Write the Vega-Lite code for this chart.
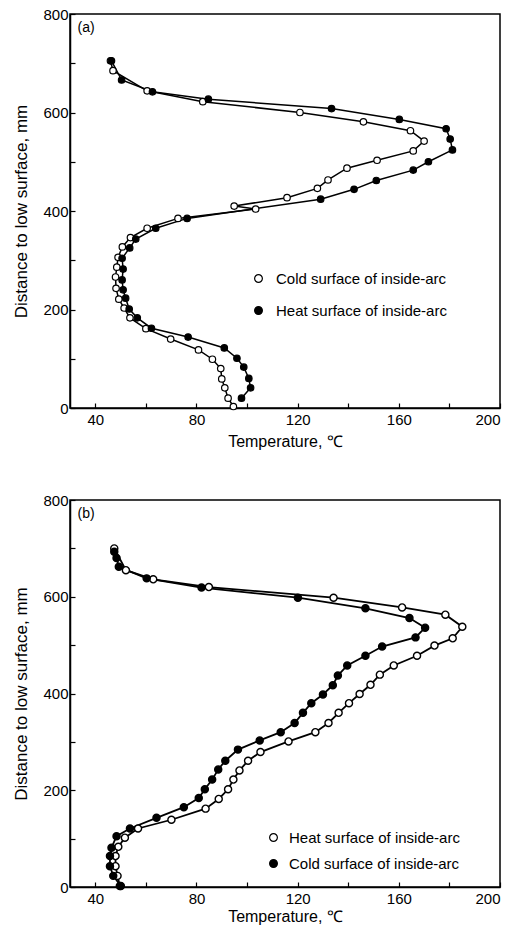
{
  "$schema": "https://vega.github.io/schema/vega-lite/v6.json",
  "background": "white",
  "padding": {"left": 12, "top": 6, "right": 10, "bottom": 5},
  "config": {
    "font": "Liberation Sans",
    "view": {"stroke": "black", "strokeWidth": 1.5},
    "axis": {"grid": false, "domainColor": "black", "domainWidth": 1.5, "tickColor": "black", "tickWidth": 1.2, "labelColor": "black", "titleColor": "black", "labelFontSize": 15, "titleFontSize": 16, "titleFontWeight": "normal", "labelFont": "Liberation Sans", "titleFont": "Liberation Sans"},
    "legend": {"labelFontSize": 15, "labelColor": "black", "labelFont": "Liberation Sans"}
  },
  "datasets": {
    "a": [
      {"s": "Cold surface of inside-arc", "t": 46, "d": 705},
      {"s": "Cold surface of inside-arc", "t": 47, "d": 685},
      {"s": "Cold surface of inside-arc", "t": 60.5, "d": 644},
      {"s": "Cold surface of inside-arc", "t": 82.5, "d": 622},
      {"s": "Cold surface of inside-arc", "t": 120.9, "d": 600},
      {"s": "Cold surface of inside-arc", "t": 146, "d": 581},
      {"s": "Cold surface of inside-arc", "t": 164.6, "d": 563},
      {"s": "Cold surface of inside-arc", "t": 170, "d": 542},
      {"s": "Cold surface of inside-arc", "t": 165.7, "d": 522},
      {"s": "Cold surface of inside-arc", "t": 151.4, "d": 503},
      {"s": "Cold surface of inside-arc", "t": 139.5, "d": 487},
      {"s": "Cold surface of inside-arc", "t": 132, "d": 463},
      {"s": "Cold surface of inside-arc", "t": 127.8, "d": 446},
      {"s": "Cold surface of inside-arc", "t": 115.8, "d": 427},
      {"s": "Cold surface of inside-arc", "t": 103.4, "d": 404},
      {"s": "Cold surface of inside-arc", "t": 94.9, "d": 410},
      {"s": "Cold surface of inside-arc", "t": 72.7, "d": 385},
      {"s": "Cold surface of inside-arc", "t": 60.5, "d": 365},
      {"s": "Cold surface of inside-arc", "t": 53.9, "d": 346},
      {"s": "Cold surface of inside-arc", "t": 50.7, "d": 327},
      {"s": "Cold surface of inside-arc", "t": 49, "d": 306},
      {"s": "Cold surface of inside-arc", "t": 48.5, "d": 286},
      {"s": "Cold surface of inside-arc", "t": 48, "d": 266},
      {"s": "Cold surface of inside-arc", "t": 48.2, "d": 243},
      {"s": "Cold surface of inside-arc", "t": 49.3, "d": 221},
      {"s": "Cold surface of inside-arc", "t": 51.4, "d": 203},
      {"s": "Cold surface of inside-arc", "t": 53.7, "d": 183},
      {"s": "Cold surface of inside-arc", "t": 60, "d": 161},
      {"s": "Cold surface of inside-arc", "t": 69.8, "d": 140},
      {"s": "Cold surface of inside-arc", "t": 80.8, "d": 118},
      {"s": "Cold surface of inside-arc", "t": 86.3, "d": 99},
      {"s": "Cold surface of inside-arc", "t": 89.6, "d": 80},
      {"s": "Cold surface of inside-arc", "t": 90, "d": 59},
      {"s": "Cold surface of inside-arc", "t": 91.2, "d": 41},
      {"s": "Cold surface of inside-arc", "t": 92.5, "d": 20},
      {"s": "Cold surface of inside-arc", "t": 94.6, "d": 3},
      {"s": "Heat surface of inside-arc", "t": 46.4, "d": 705},
      {"s": "Heat surface of inside-arc", "t": 50.4, "d": 666},
      {"s": "Heat surface of inside-arc", "t": 62.6, "d": 642},
      {"s": "Heat surface of inside-arc", "t": 84.7, "d": 627},
      {"s": "Heat surface of inside-arc", "t": 133.4, "d": 608},
      {"s": "Heat surface of inside-arc", "t": 160.2, "d": 586},
      {"s": "Heat surface of inside-arc", "t": 178.7, "d": 567},
      {"s": "Heat surface of inside-arc", "t": 180.3, "d": 546},
      {"s": "Heat surface of inside-arc", "t": 181.2, "d": 524},
      {"s": "Heat surface of inside-arc", "t": 171.7, "d": 500},
      {"s": "Heat surface of inside-arc", "t": 165.7, "d": 483},
      {"s": "Heat surface of inside-arc", "t": 151.1, "d": 462},
      {"s": "Heat surface of inside-arc", "t": 142.3, "d": 444},
      {"s": "Heat surface of inside-arc", "t": 129.1, "d": 424},
      {"s": "Heat surface of inside-arc", "t": 76.3, "d": 385},
      {"s": "Heat surface of inside-arc", "t": 63.9, "d": 365},
      {"s": "Heat surface of inside-arc", "t": 56, "d": 343},
      {"s": "Heat surface of inside-arc", "t": 53.6, "d": 325},
      {"s": "Heat surface of inside-arc", "t": 50.6, "d": 304},
      {"s": "Heat surface of inside-arc", "t": 51, "d": 282},
      {"s": "Heat surface of inside-arc", "t": 50.6, "d": 260},
      {"s": "Heat surface of inside-arc", "t": 51, "d": 240},
      {"s": "Heat surface of inside-arc", "t": 52, "d": 223},
      {"s": "Heat surface of inside-arc", "t": 53.4, "d": 201},
      {"s": "Heat surface of inside-arc", "t": 56.6, "d": 183},
      {"s": "Heat surface of inside-arc", "t": 62.2, "d": 162},
      {"s": "Heat surface of inside-arc", "t": 76.7, "d": 144},
      {"s": "Heat surface of inside-arc", "t": 91, "d": 122},
      {"s": "Heat surface of inside-arc", "t": 96, "d": 101},
      {"s": "Heat surface of inside-arc", "t": 98.7, "d": 83},
      {"s": "Heat surface of inside-arc", "t": 100.7, "d": 60},
      {"s": "Heat surface of inside-arc", "t": 101.4, "d": 41},
      {"s": "Heat surface of inside-arc", "t": 97.8, "d": 20}
    ],
    "b": [
      {"s": "Heat surface of inside-arc", "t": 47.5, "d": 700},
      {"s": "Heat surface of inside-arc", "t": 52.1, "d": 655},
      {"s": "Heat surface of inside-arc", "t": 62.9, "d": 636},
      {"s": "Heat surface of inside-arc", "t": 84.9, "d": 620},
      {"s": "Heat surface of inside-arc", "t": 134.2, "d": 598},
      {"s": "Heat surface of inside-arc", "t": 161.3, "d": 578},
      {"s": "Heat surface of inside-arc", "t": 178.4, "d": 563},
      {"s": "Heat surface of inside-arc", "t": 185.1, "d": 538},
      {"s": "Heat surface of inside-arc", "t": 181.3, "d": 514},
      {"s": "Heat surface of inside-arc", "t": 174.1, "d": 499},
      {"s": "Heat surface of inside-arc", "t": 167.2, "d": 478},
      {"s": "Heat surface of inside-arc", "t": 158, "d": 458},
      {"s": "Heat surface of inside-arc", "t": 152.5, "d": 439},
      {"s": "Heat surface of inside-arc", "t": 148.8, "d": 418},
      {"s": "Heat surface of inside-arc", "t": 144.5, "d": 399},
      {"s": "Heat surface of inside-arc", "t": 140.3, "d": 380},
      {"s": "Heat surface of inside-arc", "t": 136.2, "d": 360},
      {"s": "Heat surface of inside-arc", "t": 132.2, "d": 339},
      {"s": "Heat surface of inside-arc", "t": 127, "d": 320},
      {"s": "Heat surface of inside-arc", "t": 116.4, "d": 301},
      {"s": "Heat surface of inside-arc", "t": 105.3, "d": 279},
      {"s": "Heat surface of inside-arc", "t": 100.4, "d": 261},
      {"s": "Heat surface of inside-arc", "t": 97, "d": 241},
      {"s": "Heat surface of inside-arc", "t": 94.6, "d": 222},
      {"s": "Heat surface of inside-arc", "t": 92.5, "d": 202},
      {"s": "Heat surface of inside-arc", "t": 88.8, "d": 182},
      {"s": "Heat surface of inside-arc", "t": 83.6, "d": 162},
      {"s": "Heat surface of inside-arc", "t": 70.1, "d": 139},
      {"s": "Heat surface of inside-arc", "t": 56.9, "d": 121},
      {"s": "Heat surface of inside-arc", "t": 51.7, "d": 102},
      {"s": "Heat surface of inside-arc", "t": 49.1, "d": 83},
      {"s": "Heat surface of inside-arc", "t": 48, "d": 64},
      {"s": "Heat surface of inside-arc", "t": 48, "d": 43},
      {"s": "Heat surface of inside-arc", "t": 48.8, "d": 23},
      {"s": "Heat surface of inside-arc", "t": 49.7, "d": 2},
      {"s": "Cold surface of inside-arc", "t": 47.5, "d": 693},
      {"s": "Cold surface of inside-arc", "t": 48.4, "d": 680},
      {"s": "Cold surface of inside-arc", "t": 49.3, "d": 662},
      {"s": "Cold surface of inside-arc", "t": 60.3, "d": 638},
      {"s": "Cold surface of inside-arc", "t": 82, "d": 619},
      {"s": "Cold surface of inside-arc", "t": 120.1, "d": 598},
      {"s": "Cold surface of inside-arc", "t": 146.8, "d": 576},
      {"s": "Cold surface of inside-arc", "t": 164.2, "d": 556},
      {"s": "Cold surface of inside-arc", "t": 170.4, "d": 536},
      {"s": "Cold surface of inside-arc", "t": 166.6, "d": 516},
      {"s": "Cold surface of inside-arc", "t": 153.4, "d": 497},
      {"s": "Cold surface of inside-arc", "t": 146.8, "d": 478},
      {"s": "Cold surface of inside-arc", "t": 139.6, "d": 458},
      {"s": "Cold surface of inside-arc", "t": 135.9, "d": 437},
      {"s": "Cold surface of inside-arc", "t": 133.9, "d": 417},
      {"s": "Cold surface of inside-arc", "t": 130, "d": 398},
      {"s": "Cold surface of inside-arc", "t": 125.4, "d": 380},
      {"s": "Cold surface of inside-arc", "t": 122.1, "d": 360},
      {"s": "Cold surface of inside-arc", "t": 118.8, "d": 339},
      {"s": "Cold surface of inside-arc", "t": 113.3, "d": 320},
      {"s": "Cold surface of inside-arc", "t": 105, "d": 303},
      {"s": "Cold surface of inside-arc", "t": 96.4, "d": 284},
      {"s": "Cold surface of inside-arc", "t": 91.4, "d": 261},
      {"s": "Cold surface of inside-arc", "t": 88.6, "d": 243},
      {"s": "Cold surface of inside-arc", "t": 86.2, "d": 222},
      {"s": "Cold surface of inside-arc", "t": 83.3, "d": 202},
      {"s": "Cold surface of inside-arc", "t": 80.9, "d": 184},
      {"s": "Cold surface of inside-arc", "t": 75, "d": 165},
      {"s": "Cold surface of inside-arc", "t": 64.2, "d": 143},
      {"s": "Cold surface of inside-arc", "t": 53.7, "d": 121},
      {"s": "Cold surface of inside-arc", "t": 48.4, "d": 105},
      {"s": "Cold surface of inside-arc", "t": 46.4, "d": 81},
      {"s": "Cold surface of inside-arc", "t": 45.8, "d": 64},
      {"s": "Cold surface of inside-arc", "t": 45.8, "d": 43},
      {"s": "Cold surface of inside-arc", "t": 47.1, "d": 23},
      {"s": "Cold surface of inside-arc", "t": 50.1, "d": 2}
    ],
    "labels": [
      {"p": "a", "label": "(a)", "t": 33, "d": 772},
      {"p": "b", "label": "(b)", "t": 33, "d": 772}
    ]
  },
  "spacing": 42,
  "vconcat": [
    {
      "width": 430,
      "height": 394,
      "layer": [
        {
          "data": {"name": "a"},
          "mark": {"type": "line", "color": "black", "strokeWidth": 1.5},
          "encoding": {
            "x": {"field": "t", "type": "quantitative", "scale": {"domain": [30, 200], "nice": false}, "axis": {"title": "Temperature, ℃", "values": [40, 60, 80, 100, 120, 140, 160, 180, 200], "labelExpr": "datum.value % 40 == 0 ? datum.label : ''", "tickSize": -5, "labelPadding": 9, "titlePadding": 6}},
            "y": {"field": "d", "type": "quantitative", "scale": {"domain": [0, 800], "nice": false}, "axis": {"title": "Distance to low surface, mm", "titleFontSize": 17, "values": [0, 100, 200, 300, 400, 500, 600, 700, 800], "labelExpr": "datum.value % 200 == 0 ? datum.label : ''", "tickSize": -5, "labelPadding": 7, "titlePadding": 12}},
            "detail": {"field": "s"},
            "order": {"field": "d", "sort": "descending"}
          }
        },
        {
          "data": {"name": "a"},
          "mark": {"type": "point", "shape": "circle", "size": 42, "stroke": "black", "strokeWidth": 1.2, "opacity": 1},
          "encoding": {
            "x": {"field": "t", "type": "quantitative"},
            "y": {"field": "d", "type": "quantitative"},
            "fill": {"field": "s", "type": "nominal", "scale": {"domain": ["Cold surface of inside-arc", "Heat surface of inside-arc"], "range": ["white", "black"]}, "legend": {"title": null, "orient": "none", "legendX": 181, "legendY": 257, "symbolSize": 60, "symbolStrokeColor": "black", "symbolStrokeWidth": 1.2, "rowPadding": 16, "labelOffset": 10, "labelLimit": 400}}
          }
        },
        {
          "data": {"name": "labels"},
          "transform": [{"filter": "datum.p == 'a'"}],
          "mark": {"type": "text", "fontSize": 14, "align": "left", "color": "black"},
          "encoding": {
            "x": {"field": "t", "type": "quantitative"},
            "y": {"field": "d", "type": "quantitative"},
            "text": {"field": "label"}
          }
        }
      ],
      "resolve": {"scale": {"fill": "independent"}}
    },
    {
      "width": 430,
      "height": 387,
      "layer": [
        {
          "data": {"name": "b"},
          "mark": {"type": "line", "color": "black", "strokeWidth": 1.8},
          "encoding": {
            "x": {"field": "t", "type": "quantitative", "scale": {"domain": [30, 200], "nice": false}, "axis": {"title": "Temperature,  ℃", "values": [40, 60, 80, 100, 120, 140, 160, 180, 200], "labelExpr": "datum.value % 40 == 0 ? datum.label : ''", "tickSize": -5, "labelPadding": 9, "titlePadding": 2}},
            "y": {"field": "d", "type": "quantitative", "scale": {"domain": [0, 800], "nice": false}, "axis": {"title": "Distance to low surface, mm", "titleFontSize": 17, "values": [0, 100, 200, 300, 400, 500, 600, 700, 800], "labelExpr": "datum.value % 200 == 0 ? datum.label : ''", "tickSize": -5, "labelPadding": 7, "titlePadding": 12}},
            "detail": {"field": "s"},
            "order": {"field": "d", "sort": "descending"}
          }
        },
        {
          "data": {"name": "b"},
          "mark": {"type": "point", "shape": "circle", "size": 50, "stroke": "black", "strokeWidth": 1.4, "opacity": 1},
          "encoding": {
            "x": {"field": "t", "type": "quantitative"},
            "y": {"field": "d", "type": "quantitative"},
            "fill": {"field": "s", "type": "nominal", "scale": {"domain": ["Heat surface of inside-arc", "Cold surface of inside-arc"], "range": ["white", "black"]}, "legend": {"title": null, "orient": "none", "legendX": 196, "legendY": 330, "symbolSize": 60, "symbolStrokeColor": "black", "symbolStrokeWidth": 1.2, "rowPadding": 10, "labelOffset": 8, "labelLimit": 400}}
          }
        },
        {
          "data": {"name": "labels"},
          "transform": [{"filter": "datum.p == 'b'"}],
          "mark": {"type": "text", "fontSize": 14, "align": "left", "color": "black"},
          "encoding": {
            "x": {"field": "t", "type": "quantitative"},
            "y": {"field": "d", "type": "quantitative"},
            "text": {"field": "label"}
          }
        }
      ]
    }
  ],
  "resolve": {"scale": {"fill": "independent"}}
}
